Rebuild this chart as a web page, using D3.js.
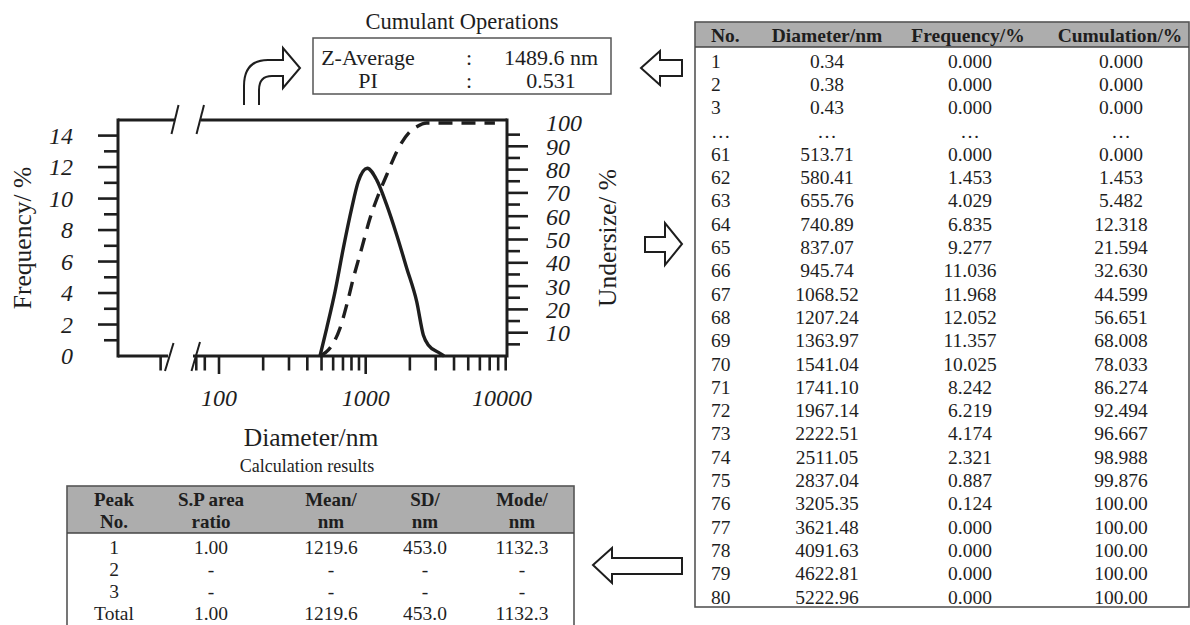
<!DOCTYPE html>
<html>
<head>
<meta charset="utf-8">
<script src="https://cdn.jsdelivr.net/npm/d3@7"></script>
<style>
  html, body { margin: 0; padding: 0; background: #fff; }
  svg { display: block; }
  text { font-family: "Liberation Serif", "Times New Roman", serif; fill: #1e1e1e; }
</style>
</head>
<body>
<svg id="chart" width="1190" height="625"></svg>
<script>
// ---------------- data ----------------
// Frequency curve
const freqDiameter = [488, 542, 618, 704, 803, 890, 1025, 1188, 1390, 1627, 1904, 2227, 2470, 2670, 3210, 3420];
const freqValue    = [0, 1.76, 4.09, 6.85, 9.39, 11.08, 11.93, 11.19, 9.6, 7.69, 5.58, 3.45, 1.34, 0.7, 0.17, 0];
// Undersize (cumulative) curve
const cumDiameter  = [488, 571, 668, 742, 823, 939, 1070, 1219, 1390, 1627, 2004, 2227, 2605, 7600];
const cumValue     = [0, 3.4, 11.9, 21.9, 33.3, 46.2, 59.1, 69.1, 77.7, 87.7, 96.3, 98.4, 100, 100];

// axis ticks
const xTickValues  = [40, 70, 80, 100, 200, 300, 400, 500, 600, 700, 800, 900, 1000, 2000, 3000, 4000, 5000, 6000, 7000, 8000, 9000];
const xMajorTicks  = [100, 1000];
const xTickLabels  = ["100", "1000", "10000"];
const leftTicks    = [1, 2, 3, 4, 5, 6, 7, 8, 9, 10, 11, 12, 13, 14];
const leftLabels   = ["0", "2", "4", "6", "8", "10", "12", "14"];
const rightTicks   = [5, 10, 15, 20, 25, 30, 35, 40, 45, 50, 55, 60, 65, 70, 75, 80, 85, 90, 95];
const rightLabels  = ["10", "20", "30", "40", "50", "60", "70", "80", "90", "100"];

// Cumulant operations
const cumulantNames  = ["Z-Average", "PI"];
const cumulantValues = ["1489.6 nm", "0.531"];

// Distribution table
const tableHeaders = ["No.", "Diameter/nm", "Frequency/%", "Cumulation/%"];
const tableNo   = ["1", "2", "3", "…", "61", "62", "63", "64", "65", "66", "67", "68", "69", "70", "71", "72", "73", "74", "75", "76", "77", "78", "79", "80"];
const tableDiam = ["0.34", "0.38", "0.43", "…", "513.71", "580.41", "655.76", "740.89", "837.07", "945.74", "1068.52", "1207.24", "1363.97", "1541.04", "1741.10", "1967.14", "2222.51", "2511.05", "2837.04", "3205.35", "3621.48", "4091.63", "4622.81", "5222.96"];
const tableFreq = ["0.000", "0.000", "0.000", "…", "0.000", "1.453", "4.029", "6.835", "9.277", "11.036", "11.968", "12.052", "11.357", "10.025", "8.242", "6.219", "4.174", "2.321", "0.887", "0.124", "0.000", "0.000", "0.000", "0.000"];
const tableCum  = ["0.000", "0.000", "0.000", "…", "0.000", "1.453", "5.482", "12.318", "21.594", "32.630", "44.599", "56.651", "68.008", "78.033", "86.274", "92.494", "96.667", "98.988", "99.876", "100.00", "100.00", "100.00", "100.00", "100.00"];

// Calculation results
const calcHeaders1 = ["Peak", "S.P area", "Mean/", "SD/", "Mode/"];
const calcHeaders2 = ["No.", "ratio", "nm", "nm", "nm"];
const calcPeak = ["1", "2", "3", "Total"];
const calcArea = ["1.00", "-", "-", "1.00"];
const calcMean = ["1219.6", "-", "-", "1219.6"];
const calcSD   = ["453.0", "-", "-", "453.0"];
const calcMode = ["1132.3", "-", "-", "1132.3"];

// ---------------- drawing ----------------
const svg = d3.select("#chart");
const ink = "#1e1e1e";

const plot = { left: 118, right: 507, top: 120, bottom: 356 };
const x = d3.scaleLog().domain([100, 10000]).range([219, 512.4]);
const yL = d3.scaleLinear().domain([0, 14]).range([356, 135.6]);
const yR = d3.scaleLinear().domain([0, 100]).range([356, 123]);

// Frame pieces (with axis breaks)
const frame = svg.append("g").attr("stroke", ink).attr("stroke-width", 3).attr("fill", "none");
frame.append("line").attr("x1", plot.left).attr("y1", plot.top - 1.5).attr("x2", plot.left).attr("y2", plot.bottom + 1.5);
frame.append("line").attr("x1", plot.right).attr("y1", plot.top - 1.5).attr("x2", plot.right).attr("y2", plot.bottom + 1.5);
frame.append("line").attr("x1", plot.left).attr("y1", plot.top).attr("x2", 175).attr("y2", plot.top);
frame.append("line").attr("x1", 201).attr("y1", plot.top).attr("x2", plot.right).attr("y2", plot.top);
frame.append("line").attr("x1", plot.left).attr("y1", plot.bottom).attr("x2", 168).attr("y2", plot.bottom);
frame.append("line").attr("x1", 193).attr("y1", plot.bottom).attr("x2", plot.right).attr("y2", plot.bottom);

// break slashes
const slashes = [
  [165, 371, 173.5, 343], [191.5, 371, 200, 342],
  [171.5, 134, 178.5, 105], [196.5, 134, 204, 105]
];
svg.append("g").attr("stroke", ink).attr("stroke-width", 2)
  .selectAll("line").data(slashes).join("line")
  .attr("x1", d => d[0]).attr("y1", d => d[1]).attr("x2", d => d[2]).attr("y2", d => d[3]);

// X ticks
svg.append("g").attr("stroke", ink).attr("stroke-width", 2.6)
  .selectAll("line").data(xTickValues).join("line")
  .attr("x1", d => x(d)).attr("x2", d => x(d))
  .attr("y1", plot.bottom)
  .attr("y2", d => plot.bottom + (xMajorTicks.includes(d) ? 18 : 14.5));

// X labels
svg.append("g").selectAll("text").data(xTickLabels).join("text")
  .attr("x", d => Math.min(x(+d), 502))
  .attr("y", 406)
  .attr("text-anchor", "middle")
  .attr("font-style", "italic")
  .attr("font-size", 24)
  .text(d => d);

// Left ticks
svg.append("g").attr("stroke", ink).attr("stroke-width", 2.6)
  .selectAll("line").data(leftTicks).join("line")
  .attr("y1", d => yL(d)).attr("y2", d => yL(d))
  .attr("x1", plot.left)
  .attr("x2", d => plot.left - (d % 2 === 0 ? 20 : 14));

svg.append("g").selectAll("text").data(leftLabels).join("text")
  .attr("x", 73)
  .attr("y", d => yL(+d))
  .attr("dy", "0.35em")
  .attr("text-anchor", "end")
  .attr("font-style", "italic")
  .attr("font-size", 24)
  .text(d => d);

// Right ticks
svg.append("g").attr("stroke", ink).attr("stroke-width", 2.6)
  .selectAll("line").data(rightTicks).join("line")
  .attr("y1", d => yR(d)).attr("y2", d => yR(d))
  .attr("x1", plot.right)
  .attr("x2", d => plot.right + (d % 10 === 0 ? 21 : 13));

svg.append("g").selectAll("text").data(rightLabels).join("text")
  .attr("x", 546)
  .attr("y", d => yR(+d))
  .attr("dy", "0.35em")
  .attr("text-anchor", "start")
  .attr("font-style", "italic")
  .attr("font-size", 24)
  .text(d => d);

// Axis titles
svg.append("text").attr("transform", "translate(22,238) rotate(-90)")
  .attr("text-anchor", "middle").attr("dy", "0.35em").attr("font-size", 25.5).text("Frequency/ %");
svg.append("text").attr("transform", "translate(607,238) rotate(-90)")
  .attr("text-anchor", "middle").attr("dy", "0.35em").attr("font-size", 25.5).text("Undersize/ %");
svg.append("text").attr("x", 311).attr("y", 437).attr("dy", "0.35em")
  .attr("text-anchor", "middle").attr("font-size", 25.5).text("Diameter/nm");

// Curves
const freqData = freqDiameter.map((d, i) => [d, freqValue[i]]);
const cumData = cumDiameter.map((d, i) => [d, cumValue[i]]);
const freqLine = d3.line().x(d => x(d[0])).y(d => yL(d[1])).curve(d3.curveMonotoneX);
const cumLine = d3.line().x(d => x(d[0])).y(d => yR(d[1])).curve(d3.curveMonotoneX);

svg.append("path").attr("d", cumLine(cumData))
  .attr("fill", "none").attr("stroke", ink).attr("stroke-width", 3.4)
  .attr("stroke-dasharray", "14,9");
svg.append("path").attr("d", freqLine(freqData))
  .attr("fill", "none").attr("stroke", ink).attr("stroke-width", 3.4)
  .attr("stroke-linejoin", "round");

// ---------------- Cumulant operations box ----------------
svg.append("text").attr("x", 462).attr("y", 21).attr("dy", "0.35em")
  .attr("text-anchor", "middle").attr("font-size", 22.5).text("Cumulant Operations");
svg.append("rect").attr("x", 313).attr("y", 38).attr("width", 298).attr("height", 56)
  .attr("fill", "none").attr("stroke", "#555").attr("stroke-width", 1.5);
const cumRows = svg.append("g").selectAll("g").data(cumulantNames).join("g")
  .attr("transform", (d, i) => `translate(0,${57 + i * 23})`);
cumRows.append("text").attr("x", 368).attr("dy", "0.35em").attr("text-anchor", "middle")
  .attr("font-size", 22).text(d => d);
cumRows.append("text").attr("x", 469).attr("dy", "0.35em").attr("text-anchor", "middle")
  .attr("font-size", 22).text(":");
cumRows.append("text").attr("x", 551).attr("dy", "0.35em").attr("text-anchor", "middle")
  .attr("font-size", 22).text((d, i) => cumulantValues[i]);

// ---------------- Arrows ----------------
const arrowStyle = sel => sel.attr("fill", "#fff").attr("stroke", ink).attr("stroke-width", 2).attr("stroke-linejoin", "miter");
// bent arrow
svg.append("path")
  .attr("d", "M244,105 L244,86 Q244,60 268,60 L283,60 L283,48 L300,68 L283,88 L283,76 L272,76 Q259,76 259,90 L259,105")
  .call(arrowStyle);
// top-right arrow pointing left
svg.append("path").attr("d", "M641,68 L660,51 L660,60 L682,60 L682,76 L660,76 L660,85 Z").call(arrowStyle);
// middle arrow pointing right
svg.append("path").attr("d", "M645,237 L665,237 L665,223 L682,244 L665,265 L665,252 L645,252 Z").call(arrowStyle);
// bottom arrow pointing left
svg.append("path").attr("d", "M593,565 L612,548 L612,558 L682,558 L682,574 L612,574 L612,583 Z").call(arrowStyle);

// ---------------- Distribution table ----------------
const tbl = { left: 695, right: 1189, top: 22, headBottom: 47, bottom: 607 };
svg.append("rect").attr("x", tbl.left).attr("y", tbl.top).attr("width", tbl.right - tbl.left).attr("height", tbl.headBottom - tbl.top)
  .attr("fill", "#adadad");
svg.append("rect").attr("x", tbl.left).attr("y", tbl.top).attr("width", tbl.right - tbl.left).attr("height", tbl.bottom - tbl.top)
  .attr("fill", "none").attr("stroke", "#555").attr("stroke-width", 1.6);
svg.append("line").attr("x1", tbl.left).attr("x2", tbl.right).attr("y1", tbl.headBottom).attr("y2", tbl.headBottom)
  .attr("stroke", "#444").attr("stroke-width", 1.4);

const colX = [711, 827, 970, 1121];
const colAnchor = ["start", "middle", "middle", "middle"];
svg.append("g").selectAll("text").data(tableHeaders).join("text")
  .attr("x", (d, i) => i === 3 ? 1120 : (i === 2 ? 968 : colX[i]))
  .attr("y", 35).attr("dy", "0.35em")
  .attr("text-anchor", (d, i) => colAnchor[i])
  .attr("font-weight", "bold").attr("font-size", 19.5).text(d => d);

const rowY = d3.scaleLinear().domain([0, tableNo.length - 1]).range([60.8, 596.7]);
const tableCols = [tableNo, tableDiam, tableFreq, tableCum];
tableCols.forEach((col, ci) => {
  svg.append("g").selectAll("text").data(col).join("text")
    .attr("x", colX[ci])
    .attr("y", (d, i) => rowY(i))
    .attr("dy", "0.35em")
    .attr("text-anchor", colAnchor[ci])
    .attr("font-size", 19.5)
    .text(d => d);
});

// ---------------- Calculation results ----------------
svg.append("text").attr("x", 307).attr("y", 466).attr("dy", "0.35em")
  .attr("text-anchor", "middle").attr("font-size", 18).text("Calculation results");
const ct = { left: 67, right: 574, top: 486, headBottom: 533, bottom: 632 };
svg.append("rect").attr("x", ct.left).attr("y", ct.top).attr("width", ct.right - ct.left).attr("height", ct.headBottom - ct.top)
  .attr("fill", "#adadad");
svg.append("rect").attr("x", ct.left).attr("y", ct.top).attr("width", ct.right - ct.left).attr("height", ct.bottom - ct.top)
  .attr("fill", "none").attr("stroke", "#555").attr("stroke-width", 1.6);
svg.append("line").attr("x1", ct.left).attr("x2", ct.right).attr("y1", ct.headBottom).attr("y2", ct.headBottom)
  .attr("stroke", "#444").attr("stroke-width", 1.4);

const calcX = [114, 211, 331, 425, 522];
svg.append("g").selectAll("text").data(calcHeaders1).join("text")
  .attr("x", (d, i) => calcX[i]).attr("y", 499).attr("dy", "0.35em")
  .attr("text-anchor", "middle").attr("font-weight", "bold").attr("font-size", 19).text(d => d);
svg.append("g").selectAll("text").data(calcHeaders2).join("text")
  .attr("x", (d, i) => calcX[i]).attr("y", 521).attr("dy", "0.35em")
  .attr("text-anchor", "middle").attr("font-weight", "bold").attr("font-size", 19).text(d => d);

const calcRowY = d3.scaleLinear().domain([0, 3]).range([547.5, 613]);
[calcPeak, calcArea, calcMean, calcSD, calcMode].forEach((col, ci) => {
  svg.append("g").selectAll("text").data(col).join("text")
    .attr("x", calcX[ci]).attr("y", (d, i) => calcRowY(i)).attr("dy", "0.35em")
    .attr("text-anchor", "middle").attr("font-size", 19.5).text(d => d);
});
</script>
</body>
</html>
